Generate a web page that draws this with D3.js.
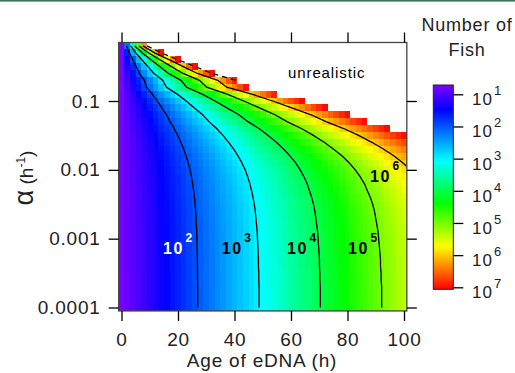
<!DOCTYPE html>
<html>
<head>
<meta charset="utf-8">
<script src="https://cdn.jsdelivr.net/npm/d3@7/dist/d3.min.js"></script>
<style>
body { margin: 0; background: #fff; }
svg { display: block; font-family: "Liberation Sans", Arial, sans-serif; }
</style>
</head>
<body>
<div id="app"></div>
<script>

// ---------- Data ----------

// age of eDNA at each grid column (h)
const ageHours = [0, 2, 4, 6, 8, 10, 12, 14, 16, 18, 20, 22, 24, 26, 28, 30, 32, 34, 36, 38, 40,
    42, 44, 46, 48, 50, 52, 54, 56, 58, 60, 62, 64, 66, 68, 70, 72, 74, 76, 78, 80,
    82, 84, 86, 88, 90, 92, 94, 96, 98, 100];

// log10(alpha) of each grid row, top to bottom
const logAlphaRows = [-0.2, -0.3, -0.4, -0.5, -0.6, -0.7, -0.8, -0.9, -1.0, -1.1, -1.2, -1.3, -1.4,
    -1.5, -1.6, -1.7, -1.8, -1.9, -2.0, -2.1, -2.2, -2.3, -2.4, -2.5, -2.6, -2.7, -2.8,
    -2.9, -3.0, -3.1, -3.2, -3.3, -3.4, -3.5, -3.6, -3.7, -3.8, -3.9, -4.0];

const hoursPerDecade = [1.45, 2.24, 3.2, 4.17, 5.13, 6.5, 7.1, 8.8, 10.2, 11.5, 12.8, 13.8, 15.0,
    16.0, 16.9, 17.7, 18.4, 19.0, 19.5, 19.9, 20.25, 20.5, 20.75, 20.95, 21.1, 21.2, 21.3,
    21.4, 21.45, 21.5, 21.55, 21.6, 21.6, 21.65, 21.65, 21.7, 21.7, 21.7, 21.7];

const fishAtAgeZero = 5.7;
const unrealisticLog = 7.06;

const contourLevels = [2, 3, 4, 5, 6];
const dashedLevel = 7;
const dashedRows = 6;

const labelLevels = [2, 3, 4, 5, 6];
const labelAges = [14.7, 35.5, 58.6, 80.2, 88];
const labelAlphas = [6.0e-4, 6.0e-4, 6.0e-4, 6.0e-4, 6.65e-3];
const labelColors = ["#fff", "#000", "#000", "#000", "#000"];

const alphaTicks = [0.1, 0.01, 0.001, 0.0001];
const alphaTickLabels = ["0.1", "0.01", "0.001", "0.0001"];
const ageTicks = [0, 20, 40, 60, 80, 100];
const fishExponents = [1, 2, 3, 4, 5, 6, 7];

// colour table: position along the bar -> hue
const colorFractions = [0, 0.12, 0.37, 0.58, 0.79, 1];
const colorHues = [270, 240, 180, 120, 60, 0];


// ---------- Main ----------

function main() {
    const width = 515, height = 373;

    const svg = d3.select("#app").append("svg")
        .attr("width", width)
        .attr("height", height);

    svg.append("rect")
        .attr("x", 0).attr("y", 0)
        .attr("width", width).attr("height", 1.6)
        .attr("fill", "#3b7656");

    // scales
    const x = d3.scaleLinear().domain([0, 100]).range([121.5, 404]);
    const y = d3.scaleLog().domain([1e-4, 0.1]).range([307.5, 101]);
    const cb = d3.scaleLinear().domain([1, 7]).range([94.3, 287.3]);

    const cbMin = cb.invert(85), cbMax = cb.invert(289.3);
    const frac = d3.scaleLinear().domain([cbMin, cbMax]).range([0, 1]).clamp(true);
    const hue = d3.scaleLinear().domain(colorFractions).range(colorHues);
    const color = (v) => d3.hsl(hue(frac(v)), 1, 0.5).formatHex();

    const left = x(-1), right = x(101);
    const top = y(Math.pow(10, -0.15)), bottom = y(Math.pow(10, -4.05));

    svg.append("clipPath").attr("id", "plot-clip")
        .append("rect")
        .attr("x", left).attr("y", top)
        .attr("width", right - left).attr("height", bottom - top);

    // heat map cells
    const logN0 = Math.log10(fishAtAgeZero);
    const cells = [];
    logAlphaRows.forEach((la, r) => {
        ageHours.forEach((t) => {
            const v = logN0 + t / hoursPerDecade[r];
            if (v <= unrealisticLog) cells.push({ t, la, v });
        });
    });

    svg.append("g")
        .attr("shape-rendering", "crispEdges")
        .selectAll("rect")
        .data(cells)
        .join("rect")
        .attr("x", (d) => x(d.t - 1))
        .attr("width", (d) => x(d.t + 1) - x(d.t - 1))
        .attr("y", (d) => y(Math.pow(10, d.la + 0.05)))
        .attr("height", (d) => y(Math.pow(10, d.la - 0.05)) - y(Math.pow(10, d.la + 0.05)))
        .attr("fill", (d) => color(d.v));

    // contour lines
    const line = d3.line()
        .x((d) => x(d.t))
        .y((d) => y(d.a));

    const contourG = svg.append("g").attr("clip-path", "url(#plot-clip)");
    contourLevels.forEach((L) => {
        const pts = logAlphaRows.map((la, r) => ({ t: (L - logN0) * hoursPerDecade[r], a: Math.pow(10, la) }));
        contourG.append("path")
            .attr("d", line(pts))
            .attr("fill", "none")
            .attr("stroke", "#000")
            .attr("stroke-width", 1.3);
    });
    const dashPts = logAlphaRows.slice(0, dashedRows)
        .map((la, r) => ({ t: (dashedLevel - logN0) * hoursPerDecade[r], a: Math.pow(10, la) }));
    contourG.append("path")
        .attr("d", line(dashPts))
        .attr("fill", "none")
        .attr("stroke", "#000")
        .attr("stroke-width", 1.3)
        .attr("stroke-dasharray", "5,4");

    // contour labels
    labelLevels.forEach((L, i) => {
        const lx = x(labelAges[i]), ly = y(labelAlphas[i]);
        svg.append("text")
            .attr("x", lx).attr("y", ly)
            .attr("font-size", 16).attr("font-weight", "bold")
            .attr("letter-spacing", 1.5)
            .attr("fill", labelColors[i])
            .text("10");
        svg.append("text")
            .attr("x", lx + 22.5).attr("y", ly - 12)
            .attr("font-size", 12).attr("font-weight", "bold")
            .attr("fill", labelColors[i])
            .text(L);
    });

    svg.append("text")
        .attr("x", 288).attr("y", 78)
        .attr("font-size", 15)
        .attr("letter-spacing", 0.9)
        .text("unrealistic");

    // frame
    svg.append("rect")
        .attr("x", left).attr("y", top)
        .attr("width", right - left).attr("height", bottom - top)
        .attr("fill", "none")
        .attr("stroke", "#444")
        .attr("stroke-width", 1.3);

    // axes
    const styleAxis = (g) => {
        g.select(".domain").remove();
        g.selectAll(".tick line").attr("stroke", "#000").attr("stroke-width", 1.3);
        g.attr("font-family", "'Liberation Sans', Arial, sans-serif")
            .attr("font-size", 19)
            .attr("letter-spacing", 0.8);
        g.selectAll(".tick text").attr("fill", "#222");
    };

    svg.append("g")
        .attr("transform", `translate(${left}, 0)`)
        .call(d3.axisLeft(y).tickValues(alphaTicks)
            .tickFormat((d, i) => alphaTickLabels[i])
            .tickSize(10).tickPadding(8))
        .call(styleAxis);

    svg.append("g")
        .attr("transform", `translate(${right}, 0)`)
        .call(d3.axisRight(y).tickValues(alphaTicks).tickFormat("").tickSize(10))
        .call(styleAxis);

    svg.append("g")
        .attr("transform", `translate(0, ${top})`)
        .call(d3.axisTop(x).tickValues(ageTicks).tickFormat("").tickSize(10))
        .call(styleAxis);

    svg.append("g")
        .attr("transform", `translate(0, ${bottom})`)
        .call(d3.axisBottom(x).tickValues(ageTicks).tickFormat(d3.format("d"))
            .tickSize(10).tickPadding(12))
        .call(styleAxis);

    // axis titles
    svg.append("text")
        .attr("x", 262).attr("y", 367)
        .attr("text-anchor", "middle")
        .attr("font-size", 19)
        .attr("letter-spacing", 0.8)
        .attr("fill", "#222")
        .text("Age of eDNA (h)");

    const yTitle = svg.append("text")
        .attr("transform", "translate(33, 178) rotate(-90)")
        .attr("text-anchor", "middle")
        .attr("font-size", 19)
        .attr("fill", "#222");
    yTitle.append("tspan").attr("font-size", 27).text("α");
    yTitle.append("tspan").text(" (h");
    yTitle.append("tspan").attr("font-size", 12).attr("dy", -8).text("-1");
    yTitle.append("tspan").attr("dy", 8).text(")");

    // colour bar
    const grad = svg.append("defs").append("linearGradient")
        .attr("id", "cbar")
        .attr("x1", 0).attr("y1", 0).attr("x2", 0).attr("y2", 1);
    d3.range(0, 1.0001, 0.02).forEach((f) => {
        grad.append("stop")
            .attr("offset", f)
            .attr("stop-color", color(cbMin + f * (cbMax - cbMin)));
    });

    svg.append("rect")
        .attr("x", 433.3).attr("y", cb(cbMin))
        .attr("width", 20).attr("height", cb(cbMax) - cb(cbMin))
        .attr("fill", "url(#cbar)")
        .attr("stroke", "#222")
        .attr("stroke-width", 1);

    svg.append("g")
        .attr("transform", "translate(453.3, 0)")
        .call(d3.axisRight(cb).tickValues(fishExponents).tickFormat("").tickSize(10))
        .call(styleAxis);

    fishExponents.forEach((e) => {
        svg.append("text")
            .attr("x", 472).attr("y", cb(e) + 11)
            .attr("font-size", 17).attr("letter-spacing", 1)
            .attr("fill", "#222")
            .text("10");
        svg.append("text")
            .attr("x", 494).attr("y", cb(e) + 1)
            .attr("font-size", 13)
            .attr("fill", "#222")
            .text(e);
    });

    svg.append("text")
        .attr("x", 467).attr("y", 31)
        .attr("text-anchor", "middle")
        .attr("font-size", 18).attr("letter-spacing", 0.8)
        .attr("fill", "#222")
        .text("Number of");
    svg.append("text")
        .attr("x", 467).attr("y", 56)
        .attr("text-anchor", "middle")
        .attr("font-size", 18).attr("letter-spacing", 0.8)
        .attr("fill", "#222")
        .text("Fish");
}

main();
</script>
</body>
</html>
